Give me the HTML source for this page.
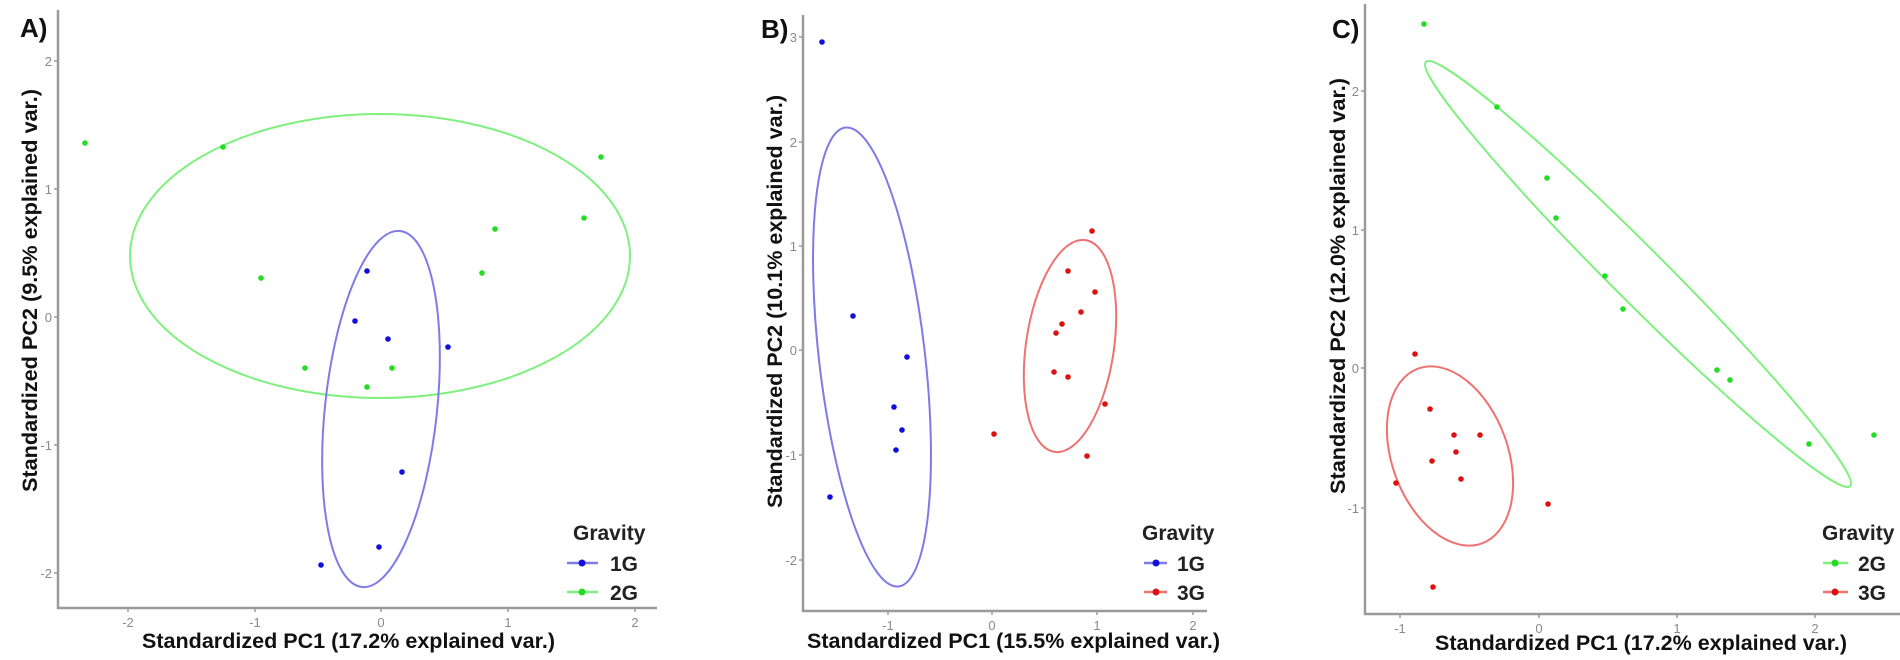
<!DOCTYPE html>
<html><head><meta charset="utf-8"><style>
html,body{margin:0;padding:0;background:#fff;}
svg{display:block;}
text{font-family:"Liberation Sans",sans-serif;}
.t{font-size:13px;fill:#8a8a8a;}
.ti{font-size:21px;font-weight:bold;fill:#111;}
.lg{font-size:21px;font-weight:bold;fill:#222;}
.lb{font-size:26px;font-weight:bold;fill:#111;}
.ax{stroke:#9a9a9a;stroke-width:2.5;fill:none;}
.tk{stroke:#9a9a9a;stroke-width:1.5;}
</style></head><body>
<svg width="1900" height="660" viewBox="0 0 1900 660" xmlns="http://www.w3.org/2000/svg">
<!-- Panel A -->
<text class="lb" x="20" y="37">A)</text>
<path class="ax" d="M58,10 V608 H657"/>
<g class="tk"><line x1="54" y1="61" x2="58" y2="61"/><line x1="54" y1="189" x2="58" y2="189"/><line x1="54" y1="317" x2="58" y2="317"/><line x1="54" y1="445" x2="58" y2="445"/><line x1="54" y1="573" x2="58" y2="573"/>
<line x1="128" y1="608" x2="128" y2="612"/><line x1="255" y1="608" x2="255" y2="612"/><line x1="381" y1="608" x2="381" y2="612"/><line x1="508" y1="608" x2="508" y2="612"/><line x1="635" y1="608" x2="635" y2="612"/></g>
<g class="t" text-anchor="end"><text x="52" y="66">2</text><text x="52" y="194">1</text><text x="52" y="322">0</text><text x="52" y="450">-1</text><text x="52" y="578">-2</text></g>
<g class="t" text-anchor="middle"><text x="128" y="627">-2</text><text x="255" y="627">-1</text><text x="381" y="627">0</text><text x="508" y="627">1</text><text x="635" y="627">2</text></g>
<text class="ti" x="142" y="648" textLength="413" lengthAdjust="spacingAndGlyphs">Standardized PC1 (17.2% explained var.)</text>
<text class="ti" transform="translate(37,492) rotate(-90)" textLength="403" lengthAdjust="spacingAndGlyphs">Standardized PC2 (9.5% explained var.)</text>
<ellipse cx="380" cy="256" rx="250" ry="142" fill="none" stroke="#7ef07e" stroke-width="2"/>
<ellipse cx="381" cy="409" rx="56" ry="179" transform="rotate(6.1 381 409)" fill="none" stroke="#7d7be8" stroke-width="2"/>
<g fill="#22dd22"><circle cx="85" cy="143" r="2.8"/><circle cx="223" cy="147" r="2.8"/><circle cx="601" cy="157" r="2.8"/><circle cx="584" cy="218" r="2.8"/><circle cx="495" cy="229" r="2.8"/><circle cx="482" cy="273" r="2.8"/><circle cx="261" cy="278" r="2.8"/><circle cx="305" cy="368" r="2.8"/><circle cx="392" cy="368" r="2.8"/><circle cx="367" cy="387" r="2.8"/></g>
<g fill="#1010dd"><circle cx="367" cy="271" r="2.8"/><circle cx="355" cy="321" r="2.8"/><circle cx="388" cy="339" r="2.8"/><circle cx="448" cy="347" r="2.8"/><circle cx="402" cy="472" r="2.8"/><circle cx="379" cy="547" r="2.8"/><circle cx="321" cy="565" r="2.8"/></g>
<text class="lg" x="573" y="540">Gravity</text>
<line x1="567" y1="563" x2="598" y2="563" stroke="#7d7be8" stroke-width="2.5"/><circle cx="582" cy="563" r="3.5" fill="#1010dd"/>
<text class="lg" x="610" y="571">1G</text>
<line x1="567" y1="592" x2="598" y2="592" stroke="#7ef07e" stroke-width="2.5"/><circle cx="582" cy="592" r="3.5" fill="#22dd22"/>
<text class="lg" x="610" y="600">2G</text>

<!-- Panel B -->
<text class="lb" x="761" y="38">B)</text>
<path class="ax" d="M803,15 V611 H1207"/>
<g class="tk"><line x1="799" y1="37" x2="803" y2="37"/><line x1="799" y1="142" x2="803" y2="142"/><line x1="799" y1="246" x2="803" y2="246"/><line x1="799" y1="350" x2="803" y2="350"/><line x1="799" y1="455" x2="803" y2="455"/><line x1="799" y1="560" x2="803" y2="560"/>
<line x1="888" y1="611" x2="888" y2="615"/><line x1="992" y1="611" x2="992" y2="615"/><line x1="1097" y1="611" x2="1097" y2="615"/><line x1="1193" y1="611" x2="1193" y2="615"/></g>
<g class="t" text-anchor="end"><text x="797" y="42">3</text><text x="797" y="147">2</text><text x="797" y="251">1</text><text x="797" y="355">0</text><text x="797" y="460">-1</text><text x="797" y="565">-2</text></g>
<g class="t" text-anchor="middle"><text x="888" y="630">-1</text><text x="992" y="630">0</text><text x="1097" y="630">1</text><text x="1193" y="630">2</text></g>
<text class="ti" x="807" y="648" textLength="413" lengthAdjust="spacingAndGlyphs">Standardized PC1 (15.5% explained var.)</text>
<text class="ti" transform="translate(782,508) rotate(-90)" textLength="413" lengthAdjust="spacingAndGlyphs">Standardized PC2 (10.1% explained var.)</text>
<ellipse cx="872" cy="357" rx="53" ry="231" transform="rotate(-6.6 872 357)" fill="none" stroke="#7d7be8" stroke-width="2"/>
<ellipse cx="1070" cy="346" rx="44" ry="107" transform="rotate(8.3 1070 346)" fill="none" stroke="#ee7272" stroke-width="2"/>
<g fill="#1010dd"><circle cx="822" cy="42" r="2.8"/><circle cx="853" cy="316" r="2.8"/><circle cx="907" cy="357" r="2.8"/><circle cx="894" cy="407" r="2.8"/><circle cx="902" cy="430" r="2.8"/><circle cx="896" cy="450" r="2.8"/><circle cx="830" cy="497" r="2.8"/></g>
<g fill="#dd1111"><circle cx="1092" cy="231" r="2.8"/><circle cx="1068" cy="271" r="2.8"/><circle cx="1095" cy="292" r="2.8"/><circle cx="1081" cy="312" r="2.8"/><circle cx="1062" cy="324" r="2.8"/><circle cx="1056" cy="333" r="2.8"/><circle cx="1054" cy="372" r="2.8"/><circle cx="1068" cy="377" r="2.8"/><circle cx="1105" cy="404" r="2.8"/><circle cx="994" cy="434" r="2.8"/><circle cx="1087" cy="456" r="2.8"/></g>
<text class="lg" x="1142" y="540">Gravity</text>
<line x1="1144" y1="563" x2="1167" y2="563" stroke="#7d7be8" stroke-width="2.5"/><circle cx="1156" cy="563" r="3.5" fill="#1010dd"/>
<text class="lg" x="1177" y="571">1G</text>
<line x1="1144" y1="592" x2="1167" y2="592" stroke="#ee7272" stroke-width="2.5"/><circle cx="1156" cy="592" r="3.5" fill="#dd1111"/>
<text class="lg" x="1177" y="600">3G</text>

<!-- Panel C -->
<text class="lb" x="1332" y="38">C)</text>
<path class="ax" d="M1365,4 V614 H1900"/>
<g class="tk"><line x1="1361" y1="91" x2="1365" y2="91"/><line x1="1361" y1="230" x2="1365" y2="230"/><line x1="1361" y1="368" x2="1365" y2="368"/><line x1="1361" y1="508" x2="1365" y2="508"/>
<line x1="1400" y1="614" x2="1400" y2="618"/><line x1="1539" y1="614" x2="1539" y2="618"/><line x1="1677" y1="614" x2="1677" y2="618"/><line x1="1815" y1="614" x2="1815" y2="618"/></g>
<g class="t" text-anchor="end"><text x="1359" y="96">2</text><text x="1359" y="235">1</text><text x="1359" y="373">0</text><text x="1359" y="513">-1</text></g>
<g class="t" text-anchor="middle"><text x="1400" y="633">-1</text><text x="1539" y="633">0</text><text x="1677" y="633">1</text><text x="1815" y="633">2</text></g>
<text class="ti" x="1435" y="650" textLength="412" lengthAdjust="spacingAndGlyphs">Standardized PC1 (17.2% explained var.)</text>
<text class="ti" transform="translate(1345,494) rotate(-90)" textLength="416" lengthAdjust="spacingAndGlyphs">Standardized PC2 (12.0% explained var.)</text>
<ellipse cx="1638" cy="274" rx="300" ry="27" transform="rotate(45 1638 274)" fill="none" stroke="#7ef07e" stroke-width="2"/>
<ellipse cx="1450" cy="456" rx="58" ry="93" transform="rotate(-20 1450 456)" fill="none" stroke="#ee7272" stroke-width="2"/>
<g fill="#22dd22"><circle cx="1424" cy="24" r="2.8"/><circle cx="1497" cy="107" r="2.8"/><circle cx="1547" cy="178" r="2.8"/><circle cx="1556" cy="218" r="2.8"/><circle cx="1605" cy="276" r="2.8"/><circle cx="1623" cy="309" r="2.8"/><circle cx="1717" cy="370" r="2.8"/><circle cx="1730" cy="380" r="2.8"/><circle cx="1809" cy="444" r="2.8"/><circle cx="1874" cy="435" r="2.8"/></g>
<g fill="#dd1111"><circle cx="1415" cy="354" r="2.8"/><circle cx="1430" cy="409" r="2.8"/><circle cx="1454" cy="435" r="2.8"/><circle cx="1480" cy="435" r="2.8"/><circle cx="1456" cy="452" r="2.8"/><circle cx="1432" cy="461" r="2.8"/><circle cx="1461" cy="479" r="2.8"/><circle cx="1396" cy="483" r="2.8"/><circle cx="1548" cy="504" r="2.8"/><circle cx="1433" cy="587" r="2.8"/></g>
<text class="lg" x="1822" y="540">Gravity</text>
<line x1="1823" y1="563" x2="1848" y2="563" stroke="#7ef07e" stroke-width="2.5"/><circle cx="1835" cy="563" r="3.5" fill="#22dd22"/>
<text class="lg" x="1858" y="571">2G</text>
<line x1="1823" y1="592" x2="1848" y2="592" stroke="#ee7272" stroke-width="2.5"/><circle cx="1835" cy="592" r="3.5" fill="#dd1111"/>
<text class="lg" x="1858" y="600">3G</text>
</svg>
</body></html>
